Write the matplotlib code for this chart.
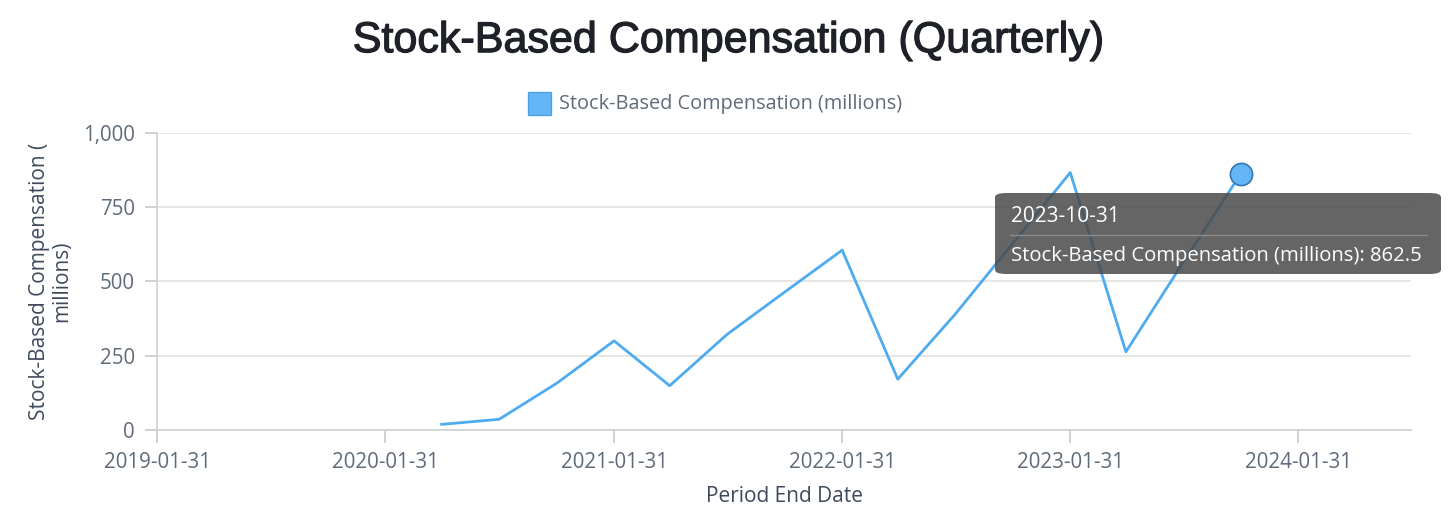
import numpy as np
import pandas as pd
import matplotlib
matplotlib.use('Agg')
import matplotlib.pyplot as plt
import matplotlib.dates as mdates
import matplotlib.patheffects as pe
from matplotlib.patches import FancyBboxPatch, Rectangle

# quarterly stock-based compensation, millions
period_end = ['2020-04-30', '2020-07-31', '2020-10-31', '2021-01-31',
              '2021-04-30', '2021-07-31', '2021-10-31', '2022-01-31',
              '2022-04-30', '2022-07-31', '2022-10-31', '2023-01-31',
              '2023-04-30', '2023-07-31', '2023-10-31']
sbc = [19, 36, 157, 300, 149, 322, 464, 605,
       171, 390, 628, 866, 263, 565, 862.5]

x_ticks = ['2019-01-31', '2020-01-31', '2021-01-31', '2022-01-31',
           '2023-01-31', '2024-01-31']
y_ticks = [0, 250, 500, 750, 1000]

dates = pd.to_datetime(period_end)
series_name = 'Stock-Based Compensation (millions)'

line_col = '#4fabef'
tick_col = '#5f6b7a'
grid_col = '#e1e1e1'
font = ['Open Sans', 'DejaVu Sans']

fig = plt.figure(figsize=(14.56, 5.14), dpi=100)
ax = fig.add_axes([0.108, 0.1634, 0.861, 0.5784])

ax.plot(dates, sbc, color=line_col, lw=2, zorder=3)
ax.plot(dates[-1:], sbc[-1:], 'o', ms=16, mfc='#64b5f6', mec='#3677b3',
        mew=1.2, zorder=4)

ax.set_xlim(pd.Timestamp('2019-01-31'), pd.Timestamp('2024-07-29'))
ax.set_ylim(0, 1000)
ax.set_xticks(pd.to_datetime(x_ticks))
ax.xaxis.set_major_formatter(mdates.DateFormatter('%Y-%m-%d'))
ax.set_yticks(y_ticks)
ax.set_yticklabels([f'{v:,}' for v in y_ticks])

ax.grid(axis='y', color=grid_col, lw=1.2)
ax.set_axisbelow(True)
for s in ['top', 'right']:
    ax.spines[s].set_visible(False)
ax.spines['left'].set_color('#cfcfcf')
ax.spines['bottom'].set_color('#cfcfcf')
ax.spines['left'].set_linewidth(1.2)
ax.spines['bottom'].set_linewidth(1.2)
ax.tick_params(axis='both', colors='#c8c8c8', labelcolor=tick_col,
               length=9, width=1.2, labelsize=14.8, pad=7)
for lab in ax.get_xticklabels() + ax.get_yticklabels():
    lab.set_family(font)

ax.set_xlabel('Period End Date', family=font, fontsize=15, color='#3e4a5c',
              labelpad=9)
ax.set_ylabel('Stock-Based Compensation (\nmillions)', family=font,
              fontsize=15, color='#3e4a5c', labelpad=8, linespacing=1.05)

fig.text(0.5, 0.92, 'Stock-Based Compensation (Quarterly)', ha='center',
         va='center', fontsize=31, family=['Liberation Sans', 'DejaVu Sans'],
         color='#1e2228',
         path_effects=[pe.withStroke(linewidth=0.9, foreground='#1e2228')])

# legend
fig.patches.append(Rectangle((528 / 1456, 1 - 115 / 514), 23 / 1456, 23 / 514,
                             transform=fig.transFigure, fc='#64b5f6',
                             ec='#4d9fe6', lw=1))
fig.text(559 / 1456, 1 - 104 / 514, series_name, ha='left', va='center',
         family=font, fontsize=14.3, color=tick_col)

# hover tooltip
tip = FancyBboxPatch((995 / 1456, 1 - 274 / 514), 446 / 1456, 81 / 514,
                     boxstyle='round,pad=0,rounding_size=0.008',
                     transform=fig.transFigure, fc='#4a4a4a', ec='none',
                     alpha=0.85, zorder=10)
fig.patches.append(tip)
fig.text(1011 / 1456, 1 - 216 / 514, period_end[-1], ha='left', va='center',
         family=font, fontsize=15, color='white', zorder=11)
fig.lines.append(plt.Line2D([1010 / 1456, 1427 / 1456],
                            [1 - 235 / 514, 1 - 235 / 514],
                            transform=fig.transFigure, color='#8a8a8a',
                            lw=1, zorder=11))
fig.text(1011 / 1456, 1 - 256 / 514, f'{series_name}: {sbc[-1]}',
         ha='left', va='center', family=font, fontsize=14.6, color='white',
         zorder=11)

fig.savefig('out.png', dpi=100, facecolor='white')
